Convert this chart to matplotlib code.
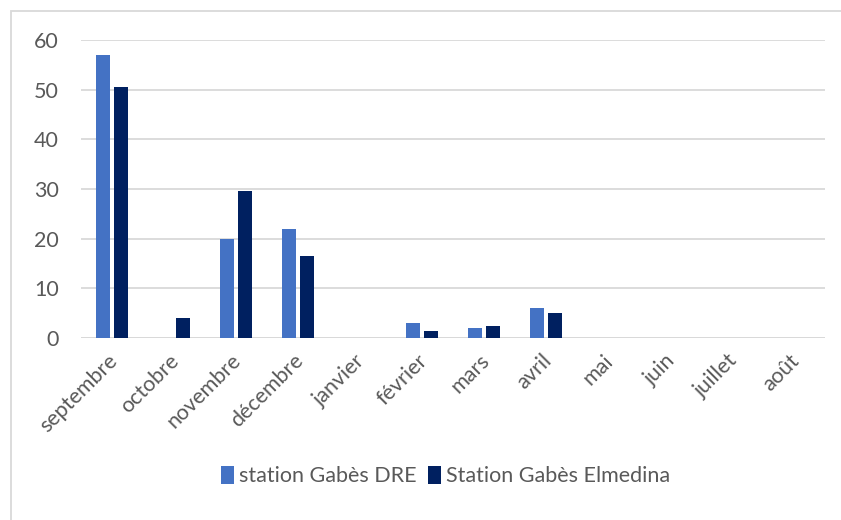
import numpy as np
import matplotlib.pyplot as plt
from matplotlib.patches import Rectangle
from matplotlib.transforms import ScaledTranslation

months = ["septembre", "octobre", "novembre", "décembre", "janvier", "février",
          "mars", "avril", "mai", "juin", "juillet", "août"]
dre = [57, 0, 20, 22, 0, 3, 2, 6, 0, 0, 0, 0]
elmedina = [50.5, 4, 29.5, 16.5, 0, 1.5, 2.5, 5, 0, 0, 0, 0]
series_names = ["station Gabès DRE", "Station Gabès Elmedina"]

plt.rcParams["font.family"] = ["Lato", "DejaVu Sans"]
text_col = "#595959"

fig = plt.figure(figsize=(8.41, 5.2), dpi=100)
ax = fig.add_axes([81 / 841, 1 - 338 / 520, 744 / 841, 298 / 520])

# chart frame
fig.patches.append(Rectangle((10.5 / 841, -0.1), 1.1, 1 - 10.5 / 520 + 0.1,
                             transform=fig.transFigure, fill=False,
                             edgecolor="#D9D9D9", linewidth=1.3))

x = np.arange(len(months))
w = 0.22
ax.bar(x - 0.142, dre, w, color="#4472C4", label=series_names[0], zorder=3)
ax.bar(x + 0.142, elmedina, w, color="#002060", label=series_names[1], zorder=3)

ax.set_xlim(-0.5, len(months) - 0.5)
ax.set_ylim(0, 60)
ax.set_yticks(range(0, 61, 10))
ax.yaxis.grid(True, color="#D9D9D9", linewidth=1.3, zorder=0)
for s in ax.spines.values():
    s.set_visible(False)
ax.axhline(0, color="#D9D9D9", linewidth=1.3, zorder=2)

ax.tick_params(axis="both", length=0, labelsize=15.5, labelcolor=text_col)
ax.tick_params(axis="y", pad=16)
ax.set_xticks(x)
ax.set_xticklabels(months, rotation=45, ha="right", rotation_mode="anchor")
ax.tick_params(axis="x", pad=9)
shift = ScaledTranslation(-5 / 100, 0, fig.dpi_scale_trans)
for lbl in ax.get_xticklabels():
    lbl.set_transform(lbl.get_transform() + shift)

leg = fig.legend(loc="center", bbox_to_anchor=(0.53, 1 - 476 / 520), ncol=2,
                 frameon=False, fontsize=15.5, handlelength=0.6, handleheight=0.9,
                 handletextpad=0.25, columnspacing=0.5)
for t in leg.get_texts():
    t.set_color(text_col)

fig.savefig("out.png", dpi=100)
